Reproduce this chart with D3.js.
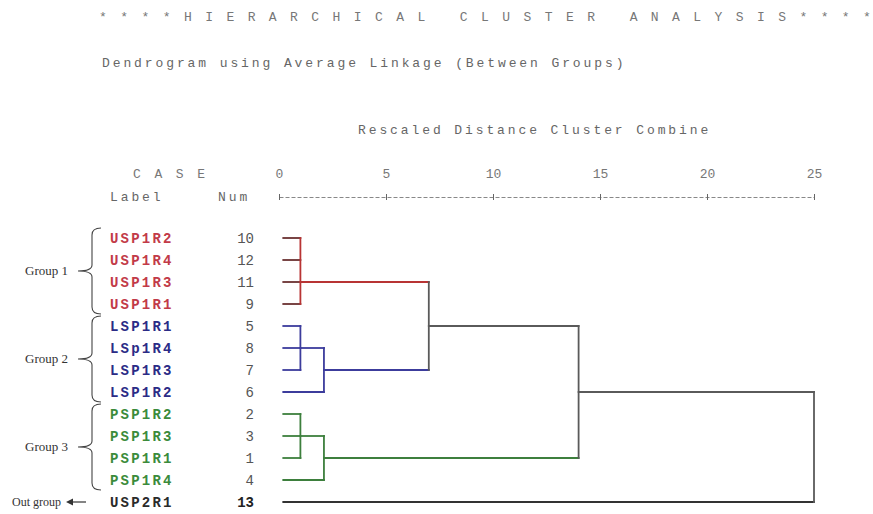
<!DOCTYPE html>
<html>
<head>
<meta charset="utf-8">
<script src="https://cdnjs.cloudflare.com/ajax/libs/d3/7.8.5/d3.min.js"></script>
<style>
  body { margin: 0; background: #fff; }
  .mono { font-family: "Courier New", "Liberation Mono", monospace; }
</style>
</head>
<body>
<svg width="873" height="514"></svg>
<script>
// case rows, top to bottom as in the dendrogram
var caseLabels = ["USP1R2", "USP1R4", "USP1R3", "USP1R1", "LSP1R1", "LSp1R4", "LSP1R3", "LSP1R2",
                  "PSP1R2", "PSP1R3", "PSP1R1", "PSP1R4", "USP2R1"];
var caseNums   = [10, 12, 11, 9, 5, 8, 7, 6, 2, 3, 1, 4, 13];
var caseGroup  = [0, 0, 0, 0, 1, 1, 1, 1, 2, 2, 2, 2, 3];
var groupNames = ["Group 1", "Group 2", "Group 3"];

// merges: node ids 0..12 are the cases, merge i gets id 13+i
var mergeKids = [[0, 1, 2, 3], [4, 5, 6], [14, 7], [8, 9, 10], [16, 11], [13, 15], [18, 17], [19, 12]];
var mergeDist = [1.0, 1.0, 2.1, 1.0, 2.1, 7.0, 14.0, 25.0];

var axisTicks = [0, 5, 10, 15, 20, 25];
var titleText = "****HIERARCHICAL CLUSTER ANALYSIS****";

var textColor = ["#c23a48", "#2b2b86", "#3b8b3b", "#2a2a2a"];
var lineColor = ["#b83434", "#3c3c9c", "#3d7f3d", "#333"];
var stubColor = ["#6a3030", "#3c3c9c", "#3d7f3d", "#333"];
var mixColor = "#5a5a5a";

var svg = d3.select("svg");
var x = d3.scaleLinear().domain([0, 25]).range([279, 814]);
var y = d3.scaleLinear().domain([0, caseLabels.length - 1]).range([238, 502]);

// headings
// title: one glyph per slot, wide spacing like the SPSS print-out
var tx = d3.scaleLinear().domain([0, titleText.length - 1]).range([103, 867]);
svg.append("g").selectAll("text")
    .data(titleText.split(""))
    .enter().append("text").attr("class", "mono")
    .attr("x", function(d, i) { return tx(i); })
    .attr("y", 21)
    .attr("text-anchor", "middle")
    .attr("font-size", 13).attr("fill", "#777")
    .text(function(d) { return d; });

svg.append("text").attr("class", "mono")
    .attr("x", 102).attr("y", 67)
    .attr("font-size", 13).attr("letter-spacing", 2.9).attr("fill", "#666")
    .text("Dendrogram using Average Linkage (Between Groups)");

svg.append("text").attr("class", "mono")
    .attr("x", 358).attr("y", 134)
    .attr("font-size", 13).attr("letter-spacing", 2.9).attr("fill", "#666")
    .text("Rescaled Distance Cluster Combine");

svg.append("text").attr("class", "mono")
    .attr("x", 133).attr("y", 178)
    .attr("font-size", 13).attr("letter-spacing", 2.9).attr("fill", "#777")
    .text("C A S E");

svg.append("text").attr("class", "mono")
    .attr("x", 110).attr("y", 201)
    .attr("font-size", 13).attr("letter-spacing", 2.9).attr("fill", "#666")
    .text("Label");

svg.append("text").attr("class", "mono")
    .attr("x", 218).attr("y", 201)
    .attr("font-size", 13).attr("letter-spacing", 2.9).attr("fill", "#666")
    .text("Num");

// axis
var axisG = svg.append("g")
    .attr("transform", "translate(0,197)")
    .call(d3.axisTop(x).tickValues(axisTicks).tickSize(0).tickPadding(19));
axisG.select(".domain").attr("stroke", "#888").attr("stroke-dasharray", "4,2");
axisG.selectAll(".tick text")
    .attr("class", "mono").attr("font-size", 13).attr("fill", "#777");
axisG.selectAll(".tick").append("line")
    .attr("y1", -3).attr("y2", 3).attr("stroke", "#666");

// case labels and numbers
var rows = svg.append("g").selectAll("g")
    .data(caseLabels)
    .enter().append("g");

rows.append("text").attr("class", "mono")
    .attr("x", 110)
    .attr("y", function(d, i) { return y(i) + 5; })
    .attr("font-size", 14).attr("font-weight", "bold").attr("letter-spacing", 2.2)
    .attr("fill", function(d, i) { return textColor[caseGroup[i]]; })
    .text(function(d) { return d; });

rows.append("text").attr("class", "mono")
    .attr("x", 254)
    .attr("y", function(d, i) { return y(i) + 5; })
    .attr("text-anchor", "end")
    .attr("font-size", 14)
    .attr("font-weight", function(d, i) { return caseGroup[i] === 3 ? "bold" : "normal"; })
    .attr("fill", function(d, i) { return caseGroup[i] === 3 ? "#222" : "#555"; })
    .text(function(d, i) { return caseNums[i]; });

// group braces
groupNames.forEach(function(name, gi) {
    var idx = caseGroup.map(function(g, i) { return g === gi ? i : -1; }).filter(function(i) { return i >= 0; });
    var y0 = y(idx[0]) - 10, y1 = y(idx[idx.length - 1]) + 10, ym = (y0 + y1) / 2;
    var xe = 101, xv = 92, xp = 78;
    var p = d3.path();
    p.moveTo(xe, y0);
    p.quadraticCurveTo(xv, y0, xv, y0 + 7);
    p.lineTo(xv, ym - 6);
    p.quadraticCurveTo(xv, ym, xp, ym);
    p.quadraticCurveTo(xv, ym, xv, ym + 6);
    p.lineTo(xv, y1 - 7);
    p.quadraticCurveTo(xv, y1, xe, y1);
    svg.append("path").attr("d", p.toString())
        .attr("fill", "none").attr("stroke", "#444").attr("stroke-width", 1.1);
    svg.append("text")
        .attr("x", 68).attr("y", ym + 4)
        .attr("text-anchor", "end")
        .attr("font-family", "Liberation Serif, serif").attr("font-size", 13).attr("fill", "#333")
        .text(name);
});

// out group
var outRow = caseGroup.indexOf(3);
svg.append("text")
    .attr("x", 12).attr("y", y(outRow) + 4)
    .attr("font-family", "Liberation Serif, serif").attr("font-size", 12).attr("fill", "#333")
    .text("Out group");
svg.append("line")
    .attr("x1", 70).attr("x2", 86).attr("y1", y(outRow)).attr("y2", y(outRow))
    .attr("stroke", "#333").attr("stroke-width", 1.2);
svg.append("path")
    .attr("d", d3.line()([[66, y(outRow)], [73, y(outRow) - 3.5], [73, y(outRow) + 3.5]]) + "Z")
    .attr("fill", "#333");

// build nodes: row where each cluster line leaves, its distance, colour
var nodes = caseLabels.map(function(d, i) {
    return { row: i, dist: 0.2, groups: [caseGroup[i]], leaf: true };
});
mergeKids.forEach(function(kids, mi) {
    var kidRows = kids.map(function(k) { return nodes[k].row; });
    var groups = [];
    kids.forEach(function(k) { nodes[k].groups.forEach(function(g) { if (groups.indexOf(g) < 0) groups.push(g); }); });
    nodes.push({ row: Math.ceil(d3.mean(kidRows)), dist: mergeDist[mi], groups: groups, kids: kids,
                 rowMin: d3.min(kidRows), rowMax: d3.max(kidRows) });
});
function colorOf(n) {
    if (n.groups.length > 1) return mixColor;
    return n.leaf ? stubColor[n.groups[0]] : lineColor[n.groups[0]];
}

var segs = [];
nodes.forEach(function(n) {
    if (!n.kids) return;
    n.kids.forEach(function(k) {
        var c = nodes[k];
        segs.push({ x1: c.dist, x2: n.dist, y1: c.row, y2: c.row, color: colorOf(c) });
    });
    segs.push({ x1: n.dist, x2: n.dist, y1: n.rowMin, y2: n.rowMax, color: colorOf(n) });
});

svg.append("g").selectAll("line")
    .data(segs)
    .enter().append("line")
    .attr("x1", function(d) { return x(d.x1); })
    .attr("x2", function(d) { return x(d.x2); })
    .attr("y1", function(d) { return y(d.y1); })
    .attr("y2", function(d) { return y(d.y2); })
    .attr("stroke", function(d) { return d.color; })
    .attr("stroke-width", 1.8)
    .attr("stroke-linecap", "square");
</script>
</body>
</html>
